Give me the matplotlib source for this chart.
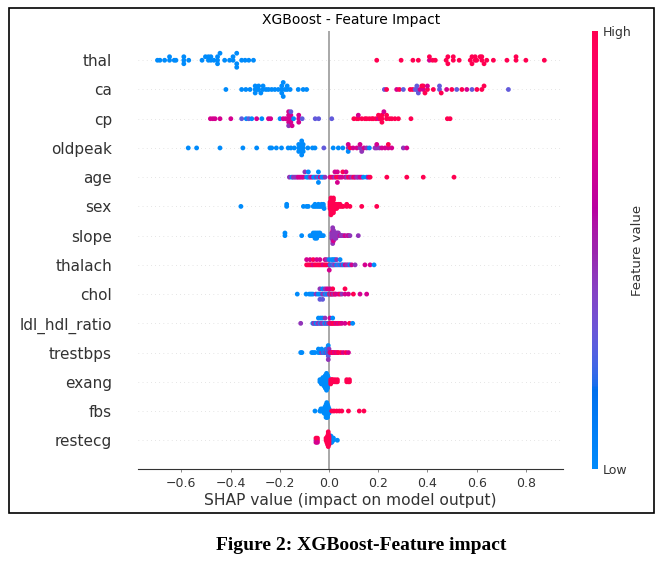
import numpy as np
import matplotlib
matplotlib.use("Agg")
import matplotlib.pyplot as plt
from matplotlib.colors import LinearSegmentedColormap
from matplotlib.patches import Rectangle

# features from top to bottom
features = ["thal", "ca", "cp", "oldpeak", "age", "sex", "slope", "thalach",
            "chol", "ldl_hdl_ratio", "trestbps", "exang", "fbs", "restecg"]

# SHAP values, one list per feature
thal_shap = [-0.697, -0.687, -0.668, -0.648, -0.648, -0.629, -0.622, -0.59, -0.59, -0.59,
             -0.57, -0.516, -0.502, -0.49, -0.49, -0.48, -0.48, -0.468, -0.453, -0.453,
             -0.453, -0.443, -0.424, -0.404, -0.39, -0.39, -0.375, -0.375, -0.375, -0.355,
             -0.341, -0.326, -0.307, 0.194, 0.293, 0.341, 0.363, 0.408, 0.408, 0.421,
             0.432, 0.476, 0.483, 0.483, 0.505, 0.505, 0.529, 0.574, 0.581, 0.581,
             0.594, 0.594, 0.60, 0.614, 0.621, 0.621, 0.63, 0.641, 0.668, 0.723,
             0.76, 0.76, 0.80, 0.875]
ca_shap = [-0.419, -0.355, -0.338, -0.321, -0.30, -0.30, -0.30, -0.292, -0.286, -0.286,
           -0.277, -0.268, -0.268, -0.256, -0.246, -0.233, -0.22, -0.206, -0.192, -0.192,
           -0.192, -0.186, -0.186, -0.179, -0.17, -0.17, -0.158, -0.125, -0.105, -0.091,
           0.225, 0.234, 0.275, 0.286, 0.302, 0.33, 0.34, 0.35, 0.357, 0.357,
           0.363, 0.37, 0.377, 0.383, 0.383, 0.39, 0.40, 0.40, 0.424, 0.449,
           0.449, 0.456, 0.478, 0.499, 0.519, 0.54, 0.56, 0.581, 0.601, 0.621,
           0.63, 0.729]
cp_shap = [-0.482, -0.472, -0.463, -0.443, -0.399, -0.355, -0.336, -0.326, -0.314, -0.294,
           -0.273, -0.246, -0.237, -0.199, -0.186, -0.176, -0.164, -0.164, -0.164, -0.164,
           -0.164, -0.155, -0.155, -0.155, -0.155, -0.15, -0.144, -0.123, -0.123, -0.123,
           -0.109, -0.056, -0.042, 0.011, 0.101, 0.113, 0.119, 0.119, 0.133, 0.146,
           0.153, 0.164, 0.174, 0.18, 0.191, 0.201, 0.201, 0.208, 0.215, 0.215,
           0.215, 0.223, 0.234, 0.234, 0.246, 0.255, 0.268, 0.282, 0.333, 0.481,
           0.492]
oldpeak_shap = [-0.572, -0.538, -0.443, -0.35, -0.294, -0.24, -0.233, -0.214, -0.193, -0.166,
                -0.155, -0.141, -0.123, -0.123, -0.123, -0.111, -0.111, -0.111, -0.111, -0.111,
                -0.105, -0.105, -0.105, -0.086, -0.067, -0.057, -0.021, 0.017, 0.038, 0.056,
                0.078, 0.078, 0.078, 0.086, 0.098, 0.113, 0.126, 0.126, 0.133, 0.142,
                0.153, 0.164, 0.187, 0.194, 0.194, 0.205, 0.215, 0.228, 0.241, 0.241,
                0.255, 0.302, 0.316]
age_shap = [-0.161, -0.151, -0.145, -0.138, -0.131, -0.125, -0.118, -0.111, -0.104, -0.098,
            -0.091, -0.084, -0.084, -0.077, -0.07, -0.063, -0.057, -0.05, -0.043, -0.043,
            -0.043, -0.036, -0.029, -0.023, -0.016, 0.004, 0.01, 0.017, 0.024, 0.024,
            0.03, 0.034, 0.034, 0.038, 0.045, 0.052, 0.056, 0.065, 0.069, 0.072,
            0.079, 0.086, 0.093, 0.1, 0.106, 0.113, 0.119, 0.126, 0.133, 0.14,
            0.153, 0.16, 0.167, 0.235, 0.316, 0.383, 0.508]
sex_shap = [-0.358, -0.172, -0.172, -0.104, -0.091, -0.084, -0.064, -0.057, -0.057, -0.05,
            -0.043, -0.043, -0.037, -0.03, -0.03, -0.023, -0.023, -0.02, 0.004, 0.004,
            0.004, 0.004, 0.008, 0.008, 0.008, 0.008, 0.008, 0.011, 0.011, 0.011,
            0.011, 0.011, 0.015, 0.015, 0.015, 0.015, 0.018, 0.018, 0.018, 0.018,
            0.024, 0.024, 0.024, 0.031, 0.031, 0.031, 0.038, 0.038, 0.045, 0.045,
            0.052, 0.058, 0.072, 0.072, 0.085, 0.133, 0.194]
slope_shap = [-0.179, -0.179, -0.111, -0.077, -0.07, -0.064, -0.064, -0.057, -0.057, -0.057,
              -0.05, -0.05, -0.05, -0.043, -0.043, -0.037, -0.037, -0.03, -0.023, 0.011,
              0.011, 0.011, 0.015, 0.015, 0.015, 0.015, 0.015, 0.015, 0.015, 0.018,
              0.018, 0.018, 0.018, 0.018, 0.024, 0.024, 0.024, 0.028, 0.028, 0.028,
              0.034, 0.034, 0.038, 0.038, 0.045, 0.048, 0.052, 0.058, 0.065, 0.075,
              0.079, 0.085, 0.119]
thalach_shap = [-0.091, -0.091, -0.084, -0.077, -0.077, -0.07, -0.064, -0.064, -0.057, -0.05,
                -0.05, -0.043, -0.037, -0.037, -0.03, -0.023, -0.016, -0.016, -0.009, -0.009,
                0.001, 0.001, 0.001, 0.006, 0.011, 0.011, 0.015, 0.018, 0.018, 0.024,
                0.024, 0.031, 0.031, 0.038, 0.045, 0.045, 0.052, 0.058, 0.065, 0.072,
                0.079, 0.085, 0.092, 0.106, 0.146, 0.167, 0.183]
chol_shap = [-0.129, -0.093, -0.08, -0.073, -0.066, -0.053, -0.044, -0.037, -0.037, -0.037,
             -0.03, -0.026, -0.026, -0.026, -0.02, -0.016, -0.016, -0.011, -0.007, -0.007,
             0.0, 0.004, 0.004, 0.008, 0.011, 0.015, 0.015, 0.019, 0.024, 0.028,
             0.038, 0.045, 0.052, 0.065, 0.065, 0.079, 0.099, 0.126, 0.153]
ldl_shap = [-0.115, -0.066, -0.062, -0.057, -0.053, -0.05, -0.047, -0.043, -0.043, -0.037,
            -0.034, -0.034, -0.03, -0.026, -0.026, -0.02, -0.016, -0.016, -0.011, -0.007,
            -0.003, 0.004, 0.004, 0.008, 0.011, 0.015, 0.015, 0.019, 0.024, 0.028,
            0.034, 0.038, 0.045, 0.052, 0.065, 0.083, 0.096]
trestbps_shap = [-0.115, -0.11, -0.07, -0.064, -0.057, -0.043, -0.043, -0.037, -0.03, -0.03,
                 -0.023, -0.019, -0.016, -0.012, -0.012, -0.008, -0.008, -0.005, -0.003, -0.003,
                 -0.003, -0.003, -0.003, 0.0, 0.0, 0.003, 0.007, 0.011, 0.015, 0.018,
                 0.022, 0.028, 0.034, 0.038, 0.048, 0.058, 0.069, 0.079]
exang_shap = [-0.037, -0.037, -0.031, -0.031, -0.031, -0.025, -0.025, -0.025, -0.025, -0.02,
              -0.02, -0.02, -0.02, -0.02, -0.015, -0.015, -0.015, -0.015, -0.015, -0.015,
              -0.015, -0.01, -0.01, -0.01, -0.01, -0.01, -0.01, -0.01, -0.01, -0.01,
              -0.006, -0.006, -0.006, -0.006, -0.006, -0.006, -0.006, -0.003, -0.003, -0.003,
              -0.003, 0.007, 0.007, 0.007, 0.012, 0.012, 0.015, 0.015, 0.024, 0.024,
              0.03, 0.034, 0.034, 0.072, 0.072, 0.079, 0.083, 0.083]
fbs_shap = [-0.057, -0.037, -0.033, -0.033, -0.026, -0.026, -0.02, -0.02, -0.02, -0.016,
            -0.016, -0.016, -0.016, -0.012, -0.012, -0.012, -0.012, -0.012, -0.012, -0.012,
            -0.009, -0.009, -0.009, -0.009, -0.009, -0.009, -0.009, -0.009, -0.006, -0.006,
            -0.006, -0.006, -0.006, -0.006, -0.006, -0.003, -0.003, -0.003, -0.003, 0.0,
            0.0, 0.0, 0.011, 0.02, 0.031, 0.042, 0.052, 0.079, 0.123, 0.142]
restecg_shap = [-0.003, 0.001, 0.001, 0.001, 0.004, 0.004, 0.004, 0.004, 0.008, 0.008,
                0.008, 0.008, 0.011, 0.011, 0.011, 0.015, 0.015, 0.018, 0.018, 0.034,
                -0.053, -0.053, -0.053, -0.047, -0.047, -0.047, -0.012, -0.012, -0.009, -0.009,
                -0.009, -0.006, -0.006, -0.006, -0.006, -0.006, -0.003, -0.003, -0.003, -0.003,
                -0.003, -0.003, -0.003, 0.0, 0.0, 0.0, 0.0, 0.0]

# feature value of every point, one letter per point (b low ... r high)
thal_fv = "bbbbbbbbbb bbbbbbbbbb bbbbbbbbbb bbbrrrrmrr rrrrrrrrrr rrrrrrrrrr rrrr"
ca_fv = "bbbbbbbbbb bbbbbbbbbb bbbbbbbbbb vrmrvrrvvv vmrmrrrmrv vrmrvrmvrr rv"
cp_fv = "mmmmmvbvbm bmmbmmmmmm pmmmvmbmmm vvvvrrrmrr rrrrrmrrrr rmrrrrrrrr r"
oldpeak_fv = "bbbbbbbbbb bbbbbbbbbb bbbbbbvbbb pmbrmmpmpm pbppmpmmmr mpm"
age_fv = "pbpppmmmmp bbbpmbbpbb bmbbpmrmpm rmmrmmrmmp rmprmppmmb bmrrrrr"
sex_fv = "bbbbbbbbbb bbbbbbbbrr rrrrrrrrrr rrrrrrrrrr rrrrrrrrrr rrrrrrr"
slope_fv = "bbbbbbbbbb bbbbbbbbbp pppppmpppp pppmpppppp ppppmpppmp mpp"
thalach_fv = "rmrrmrmrrr mrrmrmrmrp mbmbpbbvbp bbpvbbpbmp pbmpmmb"
chol_fv = "bbbbbpbbpv bpbvpbpvbm prmbrmrprm mrpmrmrmm"
ldl_fv = "pbppbbvpbv bbppbvbppb prmrmrbrrm rmrmmrb"
trestbps_fv = "bbbbbbbbpb bvbpbbvbpb vbpbpmrmrr mrmrrmrm"
exang_fv = "bbbbbbbbbb bbbbbbbbbb bbbbbbbbbb bbbbbbbbbb brrrrrrrrr rrrrrrrr"
fbs_fv = "bbbbbbbbbb bbbbbbbbbb bbbbbbbbbb bbbbbbbbbb bbrrrrrrrr"
restecg_fv = "bbbbbbbbbb bbbbbbbbbb prmrrmrrrr rrrrrrrrrr rrrrrrrr"

levels = {"b": 0.0, "v": 0.3, "p": 0.45, "m": 0.7, "r": 1.0}

all_shap = [thal_shap, ca_shap, cp_shap, oldpeak_shap, age_shap, sex_shap, slope_shap,
            thalach_shap, chol_shap, ldl_shap, trestbps_shap, exang_shap, fbs_shap, restecg_shap]
all_fv = [thal_fv, ca_fv, cp_fv, oldpeak_fv, age_fv, sex_fv, slope_fv,
          thalach_fv, chol_fv, ldl_fv, trestbps_fv, exang_fv, fbs_fv, restecg_fv]


def lch_to_rgb(l, c, h):
    # CIE LCh -> sRGB (D65), same route as shap's red_blue map
    a = c * np.cos(h)
    b = c * np.sin(h)
    fy = (l + 16) / 116
    f = np.array([fy + a / 500, fy, fy - b / 200])
    xyz = np.where(f > 0.2068966, f ** 3, (f - 16 / 116) / 7.787)
    xyz = xyz * np.array([0.95047, 1.0, 1.08883])
    m = np.array([[3.2406, -1.5372, -0.4986],
                  [-0.9689, 1.8758, 0.0415],
                  [0.0557, -0.2040, 1.0570]])
    rgb = np.clip(m @ xyz, 0, 1)
    rgb = np.where(rgb > 0.0031308, 1.055 * rgb ** (1 / 2.4) - 0.055, 12.92 * rgb)
    return np.clip(rgb, 0, 1)


nsteps = 100
l_vals = list(np.linspace(54., 40., nsteps // 2)) + list(np.linspace(40., 54., nsteps // 2))
c_vals = np.linspace(70., 90., nsteps)
h_vals = np.linspace(4.6588, 0.35470565 + 2 * np.pi, nsteps)
red_blue = LinearSegmentedColormap.from_list(
    "red_blue", [lch_to_rgb(l, c, h) for l, c, h in zip(l_vals, c_vals, h_vals)])


def swarm(vals, row_height=0.4):
    # shap-style beeswarm offsets
    vals = np.asarray(vals, dtype=float)
    quant = np.round(100 * (vals - vals.min()) / (vals.max() - vals.min() + 1e-8))
    inds = np.argsort(quant, kind="stable")
    ys = np.zeros(len(vals))
    layer = 0
    last_bin = -1
    for ind in inds:
        if quant[ind] != last_bin:
            layer = 0
        ys[ind] = np.ceil(layer / 2) * ((layer % 2) * 2 - 1)
        layer += 1
        last_bin = quant[ind]
    ys *= 0.9 * (row_height / np.max(ys + 1))
    return ys


fig = plt.figure(figsize=(6.62, 5.63), dpi=100)
ax = fig.add_axes([0.2089, 0.1661, 0.6416, 0.7788])

ax.axvline(0, color="#999999", lw=1.2, zorder=-1)
n = len(features)
for i, (name, vals, fv) in enumerate(zip(features, all_shap, all_fv)):
    pos = n - 1 - i
    cols = [levels[ch] for ch in fv.replace(" ", "")]
    assert len(cols) == len(vals), name
    ax.axhline(pos, color="#cccccc", lw=0.5, dashes=(1, 5), zorder=-1)
    ys = swarm(vals)
    ax.scatter(vals, pos + ys, c=cols, cmap=red_blue, vmin=0, vmax=1,
               s=12, linewidth=0, zorder=3)

ax.set_xlim(-0.775, 0.951)
ax.set_ylim(-1, n)
ax.set_yticks(range(n))
ax.set_yticklabels(features[::-1], fontsize=11, color="#333333")
ax.tick_params(axis="y", length=0, pad=19)
ax.set_xticks([-0.6, -0.4, -0.2, 0.0, 0.2, 0.4, 0.6, 0.8])
ax.tick_params(axis="x", labelsize=9, labelcolor="#333333", color="#777777",
               length=2.5, width=0.6, pad=3)
for side in ["top", "right", "left"]:
    ax.spines[side].set_visible(False)
ax.spines["bottom"].set_color("#333333")
ax.set_xlabel("SHAP value (impact on model output)", fontsize=11.2,
              color="#333333", labelpad=2)
ax.set_title("XGBoost - Feature Impact", fontsize=10, pad=5)

cax = fig.add_axes([592 / 662, 0.1661, 5.5 / 662, 0.7788])
sm = plt.cm.ScalarMappable(cmap=red_blue, norm=plt.Normalize(0, 1))
cb = fig.colorbar(sm, cax=cax, ticks=[0, 1])
cb.set_ticklabels(["Low", "High"])
cb.ax.tick_params(labelsize=9, length=0, labelcolor="#333333")
cb.outline.set_visible(False)
cb.set_label("Feature value", size=9.5, labelpad=0, color="#333333")

fig.patches.append(Rectangle((9 / 662, 1 - 513 / 563), 645 / 662, 505 / 563,
                             transform=fig.transFigure, fill=False,
                             edgecolor="black", lw=1.2))
fig.text(361.5 / 662, 1 - 545 / 563, "Figure 2: XGBoost-Feature impact",
         ha="center", va="center", fontsize=14, fontweight="bold",
         family="Liberation Serif")

fig.savefig("out.png", dpi=100)
